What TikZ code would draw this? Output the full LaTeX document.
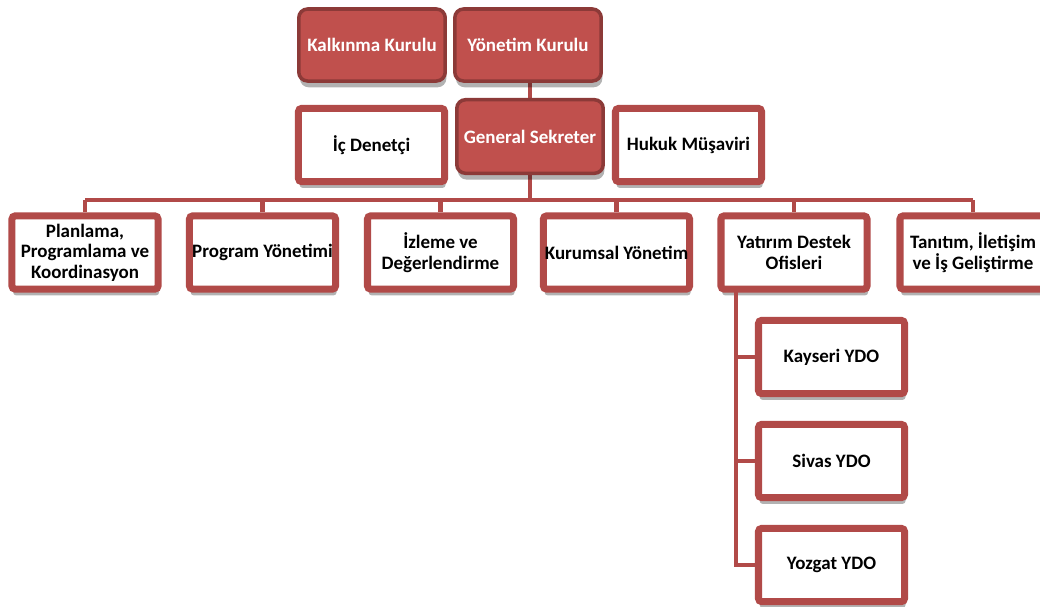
\documentclass[tikz,border=0pt]{standalone}
\usepackage{fontspec}
\setmainfont{Carlito}
\usetikzlibrary{shadows}
\definecolor{kirmizi}{HTML}{C0504D}
\definecolor{koyu}{HTML}{8C3A38}
\definecolor{cizgi}{HTML}{B14A48}
\tikzset{
 yazi/.style={font=\bfseries\fontsize{13.5}{14.5}\selectfont, align=center, inner sep=1pt},
 golge/.style={drop shadow={shadow xshift=0.8pt, shadow yshift=-4.5pt, fill=black, opacity=0.3}},
 kurul/.style={yazi, golge, draw=koyu, fill=kirmizi, text=white, line width=2.5pt,
   rounded corners=0.22cm, minimum width=3.66cm, minimum height=1.8cm},
 birim/.style={yazi, golge, draw=cizgi, fill=white, text=black, line width=5pt,
   rounded corners=0.08cm, minimum width=3.65cm, minimum height=1.83cm},
 baglanti/.style={draw=cizgi, line width=3.3pt}
}
\begin{document}
\begin{tikzpicture}[x=0.025cm, y=-0.025cm]
\useasboundingbox (0,0) rectangle (1040,606);
\coordinate (bus) at (530,200);
\draw[baglanti] (85,200) -- (973,200);
\draw[baglanti] (530,83) -- (bus);
\node[kurul] (kk) at (372,45) {Kalkınma Kurulu};
\node[kurul] (yk) at (528,45) {Yönetim Kurulu};
\node[kurul, minimum height=1.84cm] (gs) at (530,136.5) {General Sekreter};
\node[birim] (ic) at (371.5,145) {İç Denetçi};
\node[birim] (hm) at (688.5,145) {Hukuk Müşaviri};
\node[birim] (p1) at (85,252.5) {Planlama,\\Programlama ve\\Koordinasyon};
\node[birim] (p2) at (262.5,252.5) {Program Yönetimi};
\node[birim] (p3) at (440.5,252.5) {İzleme ve\\Değerlendirme};
\node[birim] (p4) at (616.5,252.5) {Kurumsal Yönetim};
\node[birim] (p5) at (794,252.5) {Yatırım Destek\\Ofisleri};
\node[birim] (p6) at (973,252.5) {Tanıtım, İletişim\\ve İş Geliştirme};
\coordinate (govde) at (736,292);
\node[birim] (ky) at (831.5,357) {Kayseri YDO};
\node[birim] (sv) at (831.5,461) {Sivas YDO};
\node[birim] (yz) at (831.5,565) {Yozgat YDO};
\foreach \n in {p1,p2,p3,p4,p5,p6}
  \draw[baglanti] (\n.north) -- (\n.north |- bus);
\draw[baglanti] (govde) |- (yz.west);
\draw[baglanti] (ky.west) -- (ky.west -| govde);
\draw[baglanti] (sv.west) -- (sv.west -| govde);
\end{tikzpicture}
\end{document}
